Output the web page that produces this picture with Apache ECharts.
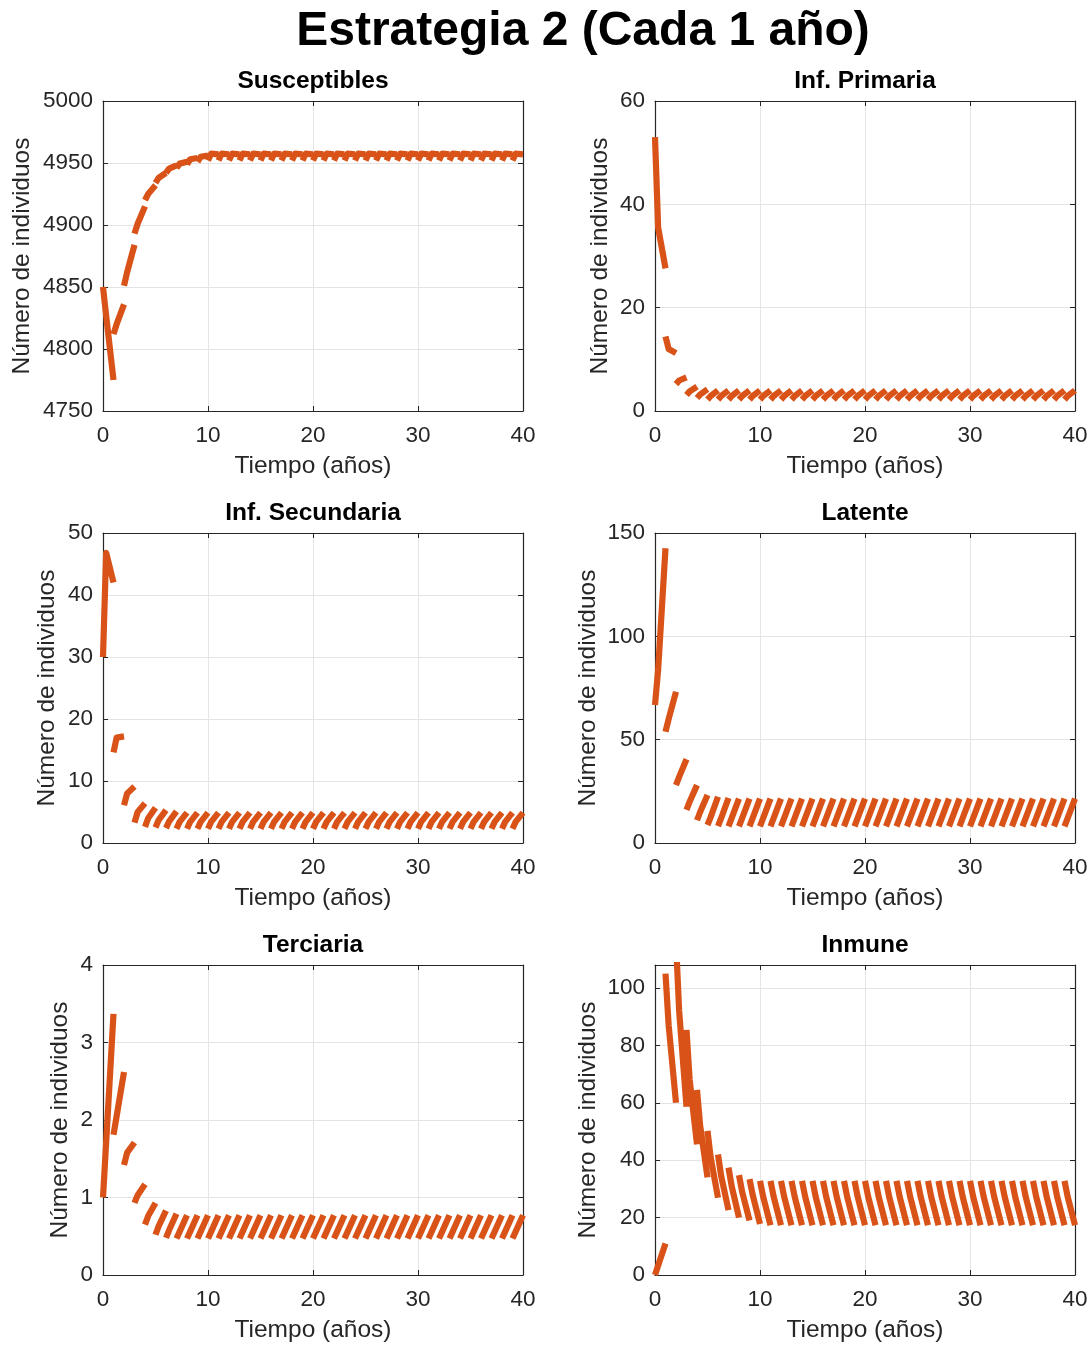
<!DOCTYPE html>
<html>
<head>
<meta charset="utf-8">
<script src="https://cdn.jsdelivr.net/npm/echarts@6/dist/echarts.min.js"></script>
<style>html,body{margin:0;padding:0;background:#fff}#c{width:1092px;height:1346px}</style>
</head>
<body>
<div id="c"></div>
<script>
// ---------- DATA (one sawtooth piece per year: value at start, at +0.3 yr, at end) ----------
const mainTitle = 'Estrategia 2 (Cada 1 año)';
const panelTitles = ['Susceptibles', 'Inf. Primaria', 'Inf. Secundaria', 'Latente', 'Terciaria', 'Inmune'];
const xTickValues = [0, 10, 20, 30, 40];
const xName = 'Tiempo (años)';
const yName = 'Número de individuos';

const S_start = [4850, 4812, 4851, 4893, 4920, 4934, 4942, 4946, 4949, 4951,
                 4952, 4952, 4952, 4952, 4952, 4952, 4952, 4952, 4952, 4952,
                 4952, 4952, 4952, 4952, 4952, 4952, 4952, 4952, 4952, 4952,
                 4952, 4952, 4952, 4952, 4952, 4952, 4952, 4952, 4952, 4952];
const S_mid   = [4827, 4820, 4862, 4901, 4925, 4938, 4945.5, 4949.5, 4953, 4955,
                 4957.5, 4957.5, 4957.5, 4957.5, 4957.5, 4957.5, 4957.5, 4957.5, 4957.5, 4957.5,
                 4957.5, 4957.5, 4957.5, 4957.5, 4957.5, 4957.5, 4957.5, 4957.5, 4957.5, 4957.5,
                 4957.5, 4957.5, 4957.5, 4957.5, 4957.5, 4957.5, 4957.5, 4957.5, 4957.5, 4957.5];
const S_end   = [4775, 4836, 4884, 4915, 4932, 4942, 4948, 4951, 4954, 4956,
                 4957, 4957, 4957, 4957, 4957, 4957, 4957, 4957, 4957, 4957,
                 4957, 4957, 4957, 4957, 4957, 4957, 4957, 4957, 4957, 4957,
                 4957, 4957, 4957, 4957, 4957, 4957, 4957, 4957, 4957, 4957];

const IP_start = [53, 14.4, 5.2, 3.1, 2.5, 2.2, 2.2, 2.2, 2.2, 2.2,
                  2.2, 2.2, 2.2, 2.2, 2.2, 2.2, 2.2, 2.2, 2.2, 2.2,
                  2.2, 2.2, 2.2, 2.2, 2.2, 2.2, 2.2, 2.2, 2.2, 2.2,
                  2.2, 2.2, 2.2, 2.2, 2.2, 2.2, 2.2, 2.2, 2.2, 2.2];
const IP_mid   = [35.5, 12.0, 5.9, 3.8, 3.2, 2.9, 2.9, 2.9, 2.9, 2.9,
                  2.9, 2.9, 2.9, 2.9, 2.9, 2.9, 2.9, 2.9, 2.9, 2.9,
                  2.9, 2.9, 2.9, 2.9, 2.9, 2.9, 2.9, 2.9, 2.9, 2.9,
                  2.9, 2.9, 2.9, 2.9, 2.9, 2.9, 2.9, 2.9, 2.9, 2.9];
const IP_end   = [27.6, 11.2, 6.5, 4.7, 4.2, 4.0, 4.0, 4.0, 4.0, 4.0,
                  4.0, 4.0, 4.0, 4.0, 4.0, 4.0, 4.0, 4.0, 4.0, 4.0,
                  4.0, 4.0, 4.0, 4.0, 4.0, 4.0, 4.0, 4.0, 4.0, 4.0,
                  4.0, 4.0, 4.0, 4.0, 4.0, 4.0, 4.0, 4.0, 4.0, 4.0];

const IS_start = [30, 14.6, 6.1, 3.3, 2.6, 2.5, 2.4, 2.3, 2.3, 2.3,
                  2.3, 2.3, 2.3, 2.3, 2.3, 2.3, 2.3, 2.3, 2.3, 2.3,
                  2.3, 2.3, 2.3, 2.3, 2.3, 2.3, 2.3, 2.3, 2.3, 2.3,
                  2.3, 2.3, 2.3, 2.3, 2.3, 2.3, 2.3, 2.3, 2.3, 2.3];
const IS_mid   = [46.8, 17.0, 8.0, 5.0, 4.0, 3.7, 3.5, 3.4, 3.4, 3.4,
                  3.4, 3.4, 3.4, 3.4, 3.4, 3.4, 3.4, 3.4, 3.4, 3.4,
                  3.4, 3.4, 3.4, 3.4, 3.4, 3.4, 3.4, 3.4, 3.4, 3.4,
                  3.4, 3.4, 3.4, 3.4, 3.4, 3.4, 3.4, 3.4, 3.4, 3.4];
const IS_end   = [42, 17.2, 9.1, 6.4, 5.7, 5.3, 5.1, 4.9, 4.9, 4.9,
                  4.9, 4.9, 4.9, 4.9, 4.9, 4.9, 4.9, 4.9, 4.9, 4.9,
                  4.9, 4.9, 4.9, 4.9, 4.9, 4.9, 4.9, 4.9, 4.9, 4.9,
                  4.9, 4.9, 4.9, 4.9, 4.9, 4.9, 4.9, 4.9, 4.9, 4.9];

const L_start = [66.8, 53.8, 28, 16, 11, 8.7, 8.2, 8, 8, 8,
                 8, 8, 8, 8, 8, 8, 8, 8, 8, 8,
                 8, 8, 8, 8, 8, 8, 8, 8, 8, 8,
                 8, 8, 8, 8, 8, 8, 8, 8, 8, 8];
const L_mid   = [84, 60, 32, 20, 15, 12.5, 12, 12, 12, 12,
                 12, 12, 12, 12, 12, 12, 12, 12, 12, 12,
                 12, 12, 12, 12, 12, 12, 12, 12, 12, 12,
                 12, 12, 12, 12, 12, 12, 12, 12, 12, 12];
const L_end   = [142.6, 73.2, 40.5, 28, 23.2, 22.4, 21.8, 21.5, 21.5, 21.5,
                 21.5, 21.5, 21.5, 21.5, 21.5, 21.5, 21.5, 21.5, 21.5, 21.5,
                 21.5, 21.5, 21.5, 21.5, 21.5, 21.5, 21.5, 21.5, 21.5, 21.5,
                 21.5, 21.5, 21.5, 21.5, 21.5, 21.5, 21.5, 21.5, 21.5, 21.5];

const T_start = [1.0, 1.81, 1.42, 0.93, 0.65, 0.52, 0.48, 0.47, 0.47, 0.47,
                 0.47, 0.47, 0.47, 0.47, 0.47, 0.47, 0.47, 0.47, 0.47, 0.47,
                 0.47, 0.47, 0.47, 0.47, 0.47, 0.47, 0.47, 0.47, 0.47, 0.47,
                 0.47, 0.47, 0.47, 0.47, 0.47, 0.47, 0.47, 0.47, 0.47, 0.47];
const T_mid   = [1.71, 2.05, 1.58, 1.03, 0.76, 0.63, 0.58, 0.56, 0.56, 0.56,
                 0.56, 0.56, 0.56, 0.56, 0.56, 0.56, 0.56, 0.56, 0.56, 0.56,
                 0.56, 0.56, 0.56, 0.56, 0.56, 0.56, 0.56, 0.56, 0.56, 0.56,
                 0.56, 0.56, 0.56, 0.56, 0.56, 0.56, 0.56, 0.56, 0.56, 0.56];
const T_end   = [3.37, 2.62, 1.71, 1.17, 0.93, 0.83, 0.79, 0.77, 0.77, 0.77,
                 0.77, 0.77, 0.77, 0.77, 0.77, 0.77, 0.77, 0.77, 0.77, 0.77,
                 0.77, 0.77, 0.77, 0.77, 0.77, 0.77, 0.77, 0.77, 0.77, 0.77,
                 0.77, 0.77, 0.77, 0.77, 0.77, 0.77, 0.77, 0.77, 0.77, 0.77];

const I_start = [0, 105, 116, 85.4, 64.5, 50.2, 42, 37.4, 34.8, 33.4,
                 32.8, 32.8, 32.8, 32.8, 32.8, 32.8, 32.8, 32.8, 32.8, 32.8,
                 32.8, 32.8, 32.8, 32.8, 32.8, 32.8, 32.8, 32.8, 32.8, 32.8,
                 32.8, 32.8, 32.8, 32.8, 32.8, 32.8, 32.8, 32.8, 32.8, 32.8];
const I_mid   = [3.3, 87, 92, 68, 52, 41, 34.5, 31, 29, 28,
                 27.3, 27.3, 27.3, 27.3, 27.3, 27.3, 27.3, 27.3, 27.3, 27.3,
                 27.3, 27.3, 27.3, 27.3, 27.3, 27.3, 27.3, 27.3, 27.3, 27.3,
                 27.3, 27.3, 27.3, 27.3, 27.3, 27.3, 27.3, 27.3, 27.3, 27.3];
const I_end   = [11, 60, 58.6, 45.5, 34, 26.9, 22.6, 20, 19, 17.8,
                 17.3, 17.3, 17.3, 17.3, 17.3, 17.3, 17.3, 17.3, 17.3, 17.3,
                 17.3, 17.3, 17.3, 17.3, 17.3, 17.3, 17.3, 17.3, 17.3, 17.3,
                 17.3, 17.3, 17.3, 17.3, 17.3, 17.3, 17.3, 17.3, 17.3, 17.3];

const yRanges = [
  {min: 4750, max: 5000, interval: 50, step: 50},
  {min: 0, max: 60, interval: 20, step: 20},
  {min: 0, max: 50, interval: 10, step: 10},
  {min: 0, max: 150, interval: 50, step: 50},
  {min: 0, max: 4, interval: 1, step: 1},
  {min: 0, max: 108, interval: 20, step: 20}
];
const seriesData = [
  [S_start, S_mid, S_end],
  [IP_start, IP_mid, IP_end],
  [IS_start, IS_mid, IS_end],
  [L_start, L_mid, L_end],
  [T_start, T_mid, T_end],
  [I_start, I_mid, I_end]
];

// ---------- LAYOUT / STYLE ----------
const FONT = '"Liberation Sans", Arial, Helvetica, sans-serif';
const TXT = '#262626';
const LINE = '#D95319';
const layout = [
  {left: 103, top: 101, yNameGap: 68},
  {left: 655, top: 101, yNameGap: 42},
  {left: 103, top: 533, yNameGap: 43},
  {left: 655, top: 533, yNameGap: 54},
  {left: 103, top: 965, yNameGap: 30},
  {left: 655, top: 965, yNameGap: 54}
];
const W = 420, H = 310;

function pieces(arr) {
  const [st, md, en] = arr;
  const d = [];
  for (let k = 0; k < st.length; k++) {
    d.push([k, st[k]], [k + 0.3, md[k]], [k + 1, en[k]], [k + 1, '-']);
  }
  return d;
}

const grid = [], xAxis = [], yAxis = [], series = [], graphic = [];
const axisLineStyle = {show: true, onZero: false, lineStyle: {color: TXT, width: 1.2}};
const tickStyle = {show: true, inside: true, length: 5, lineStyle: {color: TXT, width: 1}};

layout.forEach((p, i) => {
  grid.push({left: p.left, top: p.top, width: W, height: H, containLabel: false});
  const yr = yRanges[i];
  xAxis.push({
    gridIndex: i, type: 'value', min: xTickValues[0], max: xTickValues[xTickValues.length - 1],
    interval: xTickValues[1] - xTickValues[0], position: 'bottom',
    axisLine: axisLineStyle, axisTick: tickStyle,
    axisLabel: {fontSize: 22.5, color: TXT, margin: 13, fontFamily: FONT},
    splitLine: {show: true, lineStyle: {color: '#e4e4e4', width: 1}},
    name: xName, nameLocation: 'middle', nameGap: 43,
    nameTextStyle: {fontSize: 24.5, color: TXT, fontFamily: FONT}
  });
  xAxis.push({
    gridIndex: i, type: 'value', min: xTickValues[0], max: xTickValues[xTickValues.length - 1],
    interval: xTickValues[1] - xTickValues[0], position: 'top',
    axisLine: axisLineStyle, axisTick: tickStyle,
    axisLabel: {show: false}, splitLine: {show: false}
  });
  yAxis.push({
    gridIndex: i, type: 'value', min: yr.min, max: yr.max, interval: yr.interval, position: 'left',
    axisLine: axisLineStyle, axisTick: tickStyle,
    axisLabel: {fontSize: 22.5, color: TXT, margin: 10, fontFamily: FONT,
      formatter: v => (Math.abs(v / yr.step - Math.round(v / yr.step)) < 1e-9 ? String(v) : '')},
    splitLine: {show: true, lineStyle: {color: '#e4e4e4', width: 1}},
    name: yName, nameLocation: 'middle', nameGap: p.yNameGap,
    nameTextStyle: {fontSize: 24.5, color: TXT, fontFamily: FONT}
  });
  yAxis.push({
    gridIndex: i, type: 'value', min: yr.min, max: yr.max, interval: yr.interval, position: 'right',
    axisLine: axisLineStyle, axisTick: tickStyle,
    axisLabel: {show: false}, splitLine: {show: false}
  });
  series.push({
    type: 'line', xAxisIndex: 2 * i, yAxisIndex: 2 * i,
    data: pieces(seriesData[i]), showSymbol: false, symbol: 'none',
    connectNulls: false, clip: true, animation: false,
    lineStyle: {color: LINE, width: 6.2, cap: 'butt', join: 'round'}
  });
  graphic.push({
    type: 'text', x: p.left + W / 2, y: p.top - 20,
    style: {text: panelTitles[i], fontSize: 24.5, fontWeight: 'bold', fontFamily: FONT,
      fill: '#000', align: 'center', verticalAlign: 'middle'}
  });
});
graphic.push({
  type: 'text', x: 583, y: 32,
  style: {text: mainTitle, fontSize: 48, fontWeight: 'bold', fontFamily: FONT,
    fill: '#000', align: 'center', verticalAlign: 'middle'}
});

const chart = echarts.init(document.getElementById('c'), null, {renderer: 'canvas'});
chart.setOption({
  animation: false,
  backgroundColor: '#fff',
  grid, xAxis, yAxis, series, graphic
});
</script>
</body>
</html>
